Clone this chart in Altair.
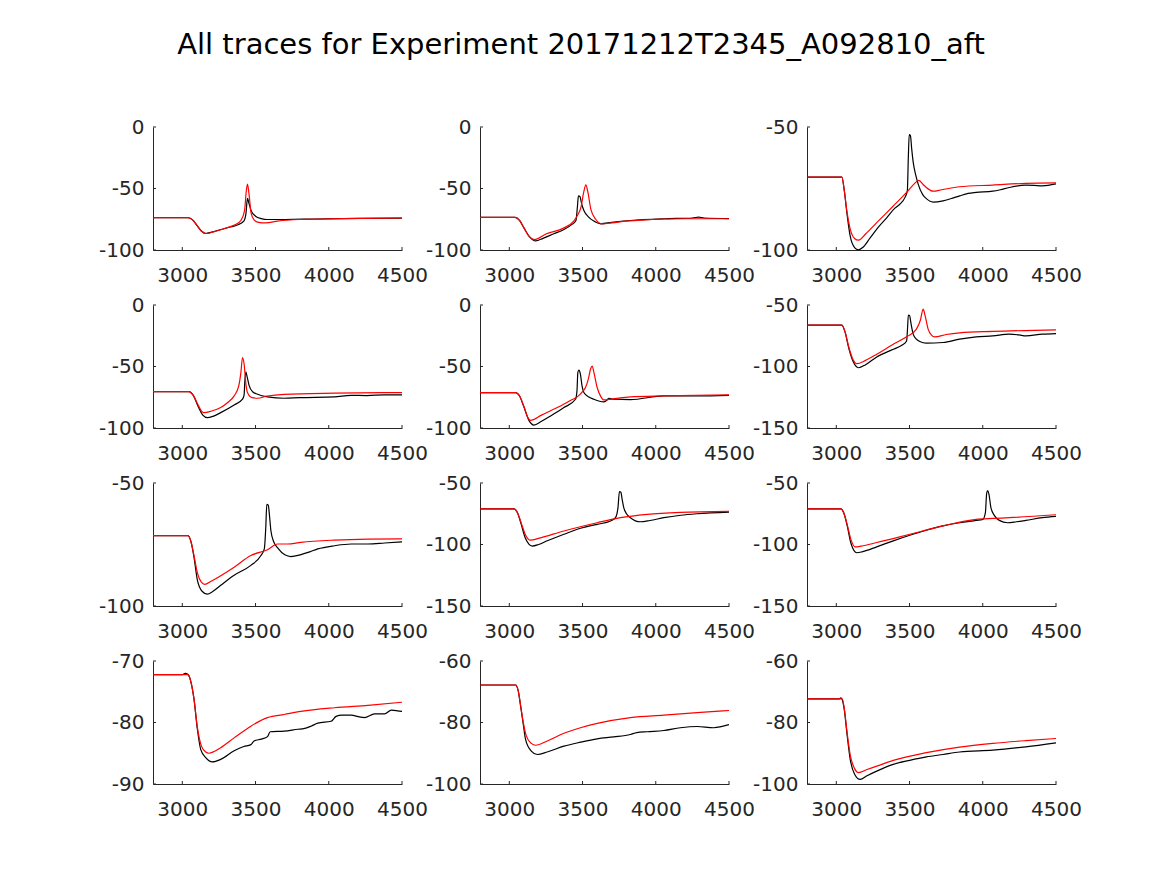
import altair as alt
import pandas as pd

TITLE = "All traces for Experiment 20171212T2345_A092810_aft"
X_DOMAIN = [2800, 4500]
X_TICKS = [3000, 3500, 4000, 4500]

# ---- Panel data: (time, value) pairs ----
P1_K = [(2800,-73.8),(3040,-73.8),(3070,-75.5),(3100,-80),(3130,-84.5),(3160,-86.6),(3200,-85.5),(3260,-83.5),(3320,-81.5),(3380,-79.5),(3420,-76.5),(3435,-70),(3445,-58),(3455,-62),(3470,-68),(3500,-72.5),(3540,-74.5),(3580,-75.2),(3700,-75.2),(3900,-74.8),(4200,-74.3),(4500,-74)]
P1_R = [(2800,-73.8),(3040,-73.8),(3070,-75.5),(3100,-80),(3130,-84.5),(3165,-86.6),(3220,-85),(3300,-82),(3360,-79.5),(3400,-76),(3425,-68),(3437,-52),(3445,-46.4),(3455,-54),(3470,-70),(3490,-75.5),(3520,-77.5),(3570,-78),(3650,-76.5),(3800,-75.2),(4100,-74.5),(4500,-74)]

P2_K = [(2800,-73.5),(3040,-73.5),(3070,-76),(3100,-82),(3140,-89.5),(3180,-92.6),(3230,-90.5),(3300,-87),(3373,-83.3),(3430,-79),(3455,-76),(3465,-65),(3472,-56),(3482,-56.5),(3495,-63),(3510,-68),(3540,-73),(3577,-76.5),(3623,-78.7),(3700,-77.5),(3827,-76),(4055,-74.6),(4250,-74),(4293,-73.2),(4330,-74),(4500,-74.5)]
P2_R = [(2800,-73.5),(3040,-73.5),(3070,-76),(3100,-82),(3135,-89),(3170,-91.5),(3250,-87),(3373,-82),(3440,-76.5),(3465,-72),(3490,-65),(3508,-53),(3523,-47),(3535,-52),(3557,-67),(3590,-75),(3634,-78.7),(3700,-78),(3800,-76.5),(4200,-74.6),(4500,-74.6)]

P3_K = [(2800,-70.4),(3038,-70.4),(3055,-76),(3072,-84.8),(3095,-94.4),(3125,-99),(3152,-99.9),(3180,-99),(3231,-95.1),(3290,-90.5),(3344,-86.9),(3400,-83),(3434,-81.4),(3470,-78.5),(3485,-76),(3492,-62),(3498,-53.1),(3506,-53.5),(3515,-59),(3525,-64.3),(3540,-69),(3559,-73.2),(3590,-77.5),(3615,-79.1),(3661,-80.5),(3729,-80),(3800,-78.8),(3842,-78),(3900,-77),(3955,-76.6),(4068,-76.1),(4120,-75.5),(4181,-74.6),(4294,-73.6),(4350,-73.7),(4407,-73.9),(4500,-73.1)]
P3_R = [(2800,-70.4),(3038,-70.4),(3055,-76),(3072,-84),(3095,-91.5),(3125,-95.3),(3152,-96),(3200,-93.5),(3276,-88.9),(3389,-82.1),(3480,-76.6),(3530,-73.2),(3563,-71.7),(3600,-73.8),(3661,-76.1),(3720,-75.5),(3842,-74.3),(4068,-73.6),(4294,-72.9),(4500,-72.7)]

P4_K = [(2800,-70.4),(3046,-70.4),(3075,-73.5),(3110,-83),(3140,-89.5),(3171,-91.6),(3210,-90.5),(3262,-87.5),(3354,-81.3),(3411,-76.6),(3422,-73),(3427,-62),(3434,-54.3),(3442,-58),(3457,-65.8),(3480,-70.5),(3514,-72.6),(3582,-74.7),(3696,-75.8),(3800,-75.3),(4039,-74.7),(4150,-73.4),(4260,-73.6),(4380,-73.1),(4500,-73.1)]
P4_R = [(2800,-70.4),(3046,-70.4),(3075,-73.5),(3105,-80.5),(3130,-86),(3148,-87.5),(3200,-86.2),(3262,-83.4),(3310,-79.3),(3354,-73.9),(3385,-66),(3400,-55),(3411,-42.7),(3422,-48),(3435,-65),(3445,-71.2),(3475,-75.3),(3514,-75.8),(3580,-74),(3696,-72.6),(4039,-71.7),(4500,-71.2)]

P5_K = [(2800,-71.2),(3043,-71.2),(3070,-74),(3100,-83),(3135,-94),(3168,-97.6),(3220,-94.5),(3282,-90.2),(3373,-83.4),(3452,-76.6),(3462,-70),(3468,-55),(3475,-53),(3485,-56),(3497,-66),(3509,-71.2),(3540,-74.5),(3577,-76.6),(3645,-78.8),(3665,-77.5),(3680,-75.8),(3700,-76.5),(3827,-76.9),(4055,-73.9),(4282,-73.9),(4500,-73.4)]
P5_R = [(2800,-71.2),(3043,-71.2),(3070,-74),(3100,-82.5),(3125,-91),(3145,-93.8),(3220,-89.5),(3327,-83.4),(3420,-77.5),(3464,-74.7),(3500,-70.5),(3520,-67.1),(3540,-60),(3555,-52),(3566,-49.7),(3578,-55),(3600,-67.1),(3625,-74.5),(3645,-77.2),(3700,-76.5),(3827,-74.7),(4055,-73.9),(4500,-73.1)]

P6_K = [(2800,-66.3),(3038,-66.3),(3060,-72),(3085,-85),(3115,-96),(3152,-101),(3200,-98.5),(3276,-92.2),(3389,-86),(3450,-82.5),(3480,-79.2),(3486,-70),(3492,-58.2),(3500,-58.5),(3510,-65),(3525,-73.7),(3545,-77.5),(3570,-79.7),(3615,-81),(3729,-80.5),(3842,-77.8),(3955,-75.9),(4068,-75.1),(4181,-73.7),(4248,-74.3),(4294,-75.1),(4407,-73.7),(4500,-73.2)]
P6_R = [(2800,-66.3),(3038,-66.3),(3060,-72),(3085,-84),(3115,-94.5),(3140,-97.7),(3200,-95),(3276,-90),(3389,-81.9),(3480,-75.9),(3547,-69.6),(3575,-62),(3593,-53.3),(3605,-58),(3627,-69.6),(3650,-74.5),(3672,-75.9),(3750,-74),(3842,-72.6),(4068,-71.5),(4500,-70.2)]

P7_K = [(2800,-71.4),(3039,-71.4),(3060,-74),(3080,-80.2),(3103,-89.5),(3135,-94),(3171,-95.2),(3210,-94),(3262,-91.6),(3354,-87.5),(3468,-83.5),(3537,-79.5),(3560,-76.8),(3570,-68),(3577,-58.7),(3587,-59),(3595,-63),(3605,-69.4),(3625,-74),(3651,-76.4),(3700,-79.2),(3742,-79.9),(3810,-79.1),(3870,-78),(3925,-76.8),(4039,-75.5),(4153,-74.8),(4267,-74.8),(4381,-74.4),(4500,-73.9)]
P7_R = [(2800,-71.4),(3039,-71.4),(3060,-74),(3080,-79.5),(3103,-86.5),(3130,-90.3),(3153,-91.2),(3200,-89.8),(3354,-84.2),(3468,-79.5),(3582,-77.1),(3651,-74.8),(3719,-74.8),(3810,-74.1),(4039,-73.2),(4267,-72.8),(4500,-72.7)]

P8_K = [(2800,-71),(3032,-71),(3055,-74),(3080,-83),(3110,-95),(3157,-101.3),(3200,-100),(3259,-97),(3373,-91.7),(3486,-86.8),(3600,-83.6),(3691,-80.9),(3725,-78.2),(3742,-70),(3752,-57),(3762,-57.5),(3770,-63),(3782,-70.2),(3800,-75),(3827,-78.2),(3895,-81.5),(3960,-80.5),(4055,-78.2),(4170,-76.2),(4282,-75),(4500,-73.7)]
P8_R = [(2800,-71),(3032,-71),(3055,-74),(3080,-82),(3110,-92),(3145,-96.5),(3200,-95),(3373,-89),(3600,-82.3),(3759,-78.2),(3941,-75.5),(4168,-73.9),(4500,-73.1)]

P9_K = [(2800,-71),(3032,-71),(3050,-74),(3075,-85),(3100,-99),(3140,-106.7),(3180,-105.8),(3276,-101.9),(3389,-97),(3502,-92.5),(3615,-88.4),(3728,-84.9),(3842,-82.3),(3955,-80.4),(4000,-79.6),(4018,-74),(4027,-58),(4034,-56.2),(4042,-59),(4056,-70.2),(4080,-76.5),(4113,-80.4),(4169,-82.3),(4230,-81.5),(4294,-80.4),(4407,-78.2),(4500,-77.2)]
P9_R = [(2800,-71),(3032,-71),(3050,-74),(3075,-84),(3100,-96),(3129,-101.9),(3170,-101.3),(3276,-98.4),(3502,-91.7),(3728,-84.9),(3955,-79.6),(4068,-78.8),(4181,-78.2),(4500,-75.8)]

P10_K = [(2800,-72.2),(3000,-72.2),(3020,-72),(3039,-72.2),(3060,-73.5),(3080,-76.2),(3103,-81.1),(3126,-84.4),(3160,-85.7),(3205,-86.4),(3262,-86),(3354,-84.6),(3420,-83.9),(3468,-83.6),(3490,-83),(3540,-82.7),(3582,-82.3),(3600,-81.5),(3696,-81.4),(3790,-81.1),(3830,-81),(3879,-80.6),(3925,-80.1),(4016,-79.8),(4050,-79),(4090,-78.8),(4153,-78.8),(4210,-79.1),(4244,-79.2),(4313,-78.6),(4381,-78.6),(4427,-78),(4470,-78.1),(4500,-78.2)]
P10_R = [(2800,-72.2),(3039,-72.2),(3060,-73.5),(3080,-76.2),(3103,-80.8),(3130,-83.8),(3160,-84.8),(3182,-85),(3262,-84.1),(3354,-82.5),(3468,-80.6),(3582,-79.2),(3696,-78.7),(3810,-78.2),(4039,-77.6),(4267,-77.2),(4500,-76.7)]

P11_K = [(2800,-67.8),(3043,-67.8),(3060,-69.5),(3077,-74.6),(3095,-80.5),(3111,-85.5),(3150,-89.3),(3191,-90.4),(3259,-89.6),(3373,-87.7),(3486,-86.4),(3600,-85.3),(3714,-84.7),(3827,-83.9),(3870,-83.3),(3941,-83),(4055,-82.6),(4168,-81.7),(4282,-81.3),(4395,-81.7),(4500,-80.7)]
P11_R = [(2800,-67.8),(3043,-67.8),(3060,-69.5),(3077,-74.3),(3095,-79.8),(3115,-84.2),(3150,-86.8),(3180,-87.4),(3259,-86),(3373,-83.5),(3486,-81.7),(3600,-80.3),(3827,-78.4),(4055,-77.6),(4282,-76.8),(4500,-76.1)]

P12_K = [(2800,-72.3),(3020,-72.3),(3030,-72),(3040,-72.5),(3055,-76),(3072,-83.3),(3095,-92),(3125,-96.8),(3163,-98.5),(3210,-97.3),(3276,-95.8),(3389,-93.6),(3502,-92.3),(3615,-91.2),(3728,-90.4),(3842,-89.6),(4068,-89),(4294,-87.9),(4500,-86.6)]
P12_R = [(2800,-72.3),(3040,-72.3),(3055,-75.5),(3072,-82.5),(3095,-90.5),(3125,-95),(3152,-96.3),(3210,-95.3),(3276,-94.2),(3389,-92.3),(3615,-89.8),(3842,-88),(4068,-86.8),(4294,-85.9),(4500,-85.2)]

# y-axis ranges and ticks per panel
Y_DOMAINS = [[-100, 0], [-100, 0], [-100, -50],
             [-100, 0], [-100, 0], [-150, -50],
             [-100, -50], [-150, -50], [-150, -50],
             [-90, -70], [-100, -60], [-100, -60]]
Y_TICKS = [[-100, -50, 0], [-100, -50, 0], [-100, -50],
           [-100, -50, 0], [-100, -50, 0], [-150, -100, -50],
           [-100, -50], [-150, -100, -50], [-150, -100, -50],
           [-90, -80, -70], [-100, -80, -60], [-100, -80, -60]]

PANELS = [(P1_K, P1_R), (P2_K, P2_R), (P3_K, P3_R),
          (P4_K, P4_R), (P5_K, P5_R), (P6_K, P6_R),
          (P7_K, P7_R), (P8_K, P8_R), (P9_K, P9_R),
          (P10_K, P10_R), (P11_K, P11_R), (P12_K, P12_R)]

W, H = 249, 123
AXIS_COLOR = "#262626"
FONT = "DejaVu Sans"
LABEL_EXPR = "'' + datum.value"


def panel(black, red, ydom, yticks):
    dk = pd.DataFrame(black, columns=["t", "v"])
    dr = pd.DataFrame(red, columns=["t", "v"])
    xs = alt.Scale(domain=X_DOMAIN, nice=False, zero=False)
    ys = alt.Scale(domain=ydom, nice=False, zero=False)
    xaxis = alt.Axis(values=X_TICKS, title=None, labelPadding=25,
                     labelBaseline="middle", labelExpr=LABEL_EXPR,
                     ticks=False, grid=False, domainColor=AXIS_COLOR)
    yaxis = alt.Axis(values=yticks, title=None, labelPadding=9,
                     labelExpr=LABEL_EXPR, ticks=False, grid=False,
                     domainColor=AXIS_COLOR)
    X = alt.X("t:Q", scale=xs, axis=xaxis)
    Y = alt.Y("v:Q", scale=ys, axis=yaxis)
    kline = alt.Chart(dk).mark_line(color="#000000", strokeWidth=1.2,
                                    interpolate="monotone", clip=True).encode(x=X, y=Y)
    rline = alt.Chart(dr).mark_line(color="#ff0000", strokeWidth=1.2,
                                    interpolate="monotone", clip=True).encode(x=X, y=Y)
    xt = alt.Chart(pd.DataFrame({"t": X_TICKS})).mark_rule(
        color=AXIS_COLOR, strokeWidth=1).encode(
        x=X, y=alt.value(H), y2=alt.value(H - 3),
    )
    yt = alt.Chart(pd.DataFrame({"v": yticks})).mark_rule(
        color=AXIS_COLOR, strokeWidth=1).encode(
        y=Y, x=alt.value(0), x2=alt.value(3),
    )
    return alt.layer(kline, rline, xt, yt).properties(width=W, height=H)


charts = [panel(k, r, d, t) for (k, r), d, t in zip(PANELS, Y_DOMAINS, Y_TICKS)]

chart = alt.concat(
    *charts, columns=3, spacing={"row": 55, "column": 78}, bounds="flush"
).properties(
    title=alt.TitleParams(TITLE, fontSize=29, font=FONT, fontWeight="normal",
                          color="#000000", anchor="middle", offset=57,
                          dx=-9),
    padding={"left": 98, "top": 31, "right": 10, "bottom": 10},
    background="white",
).configure_view(stroke=None).configure_axis(
    grid=False, ticks=False, domainColor=AXIS_COLOR,
    domainWidth=1, labelColor=AXIS_COLOR, labelFont=FONT, labelFontSize=20,
    labelFlush=False, labelOverlap=False,
)

chart.save("out.html", embed_options={"renderer": "svg", "actions": False})
